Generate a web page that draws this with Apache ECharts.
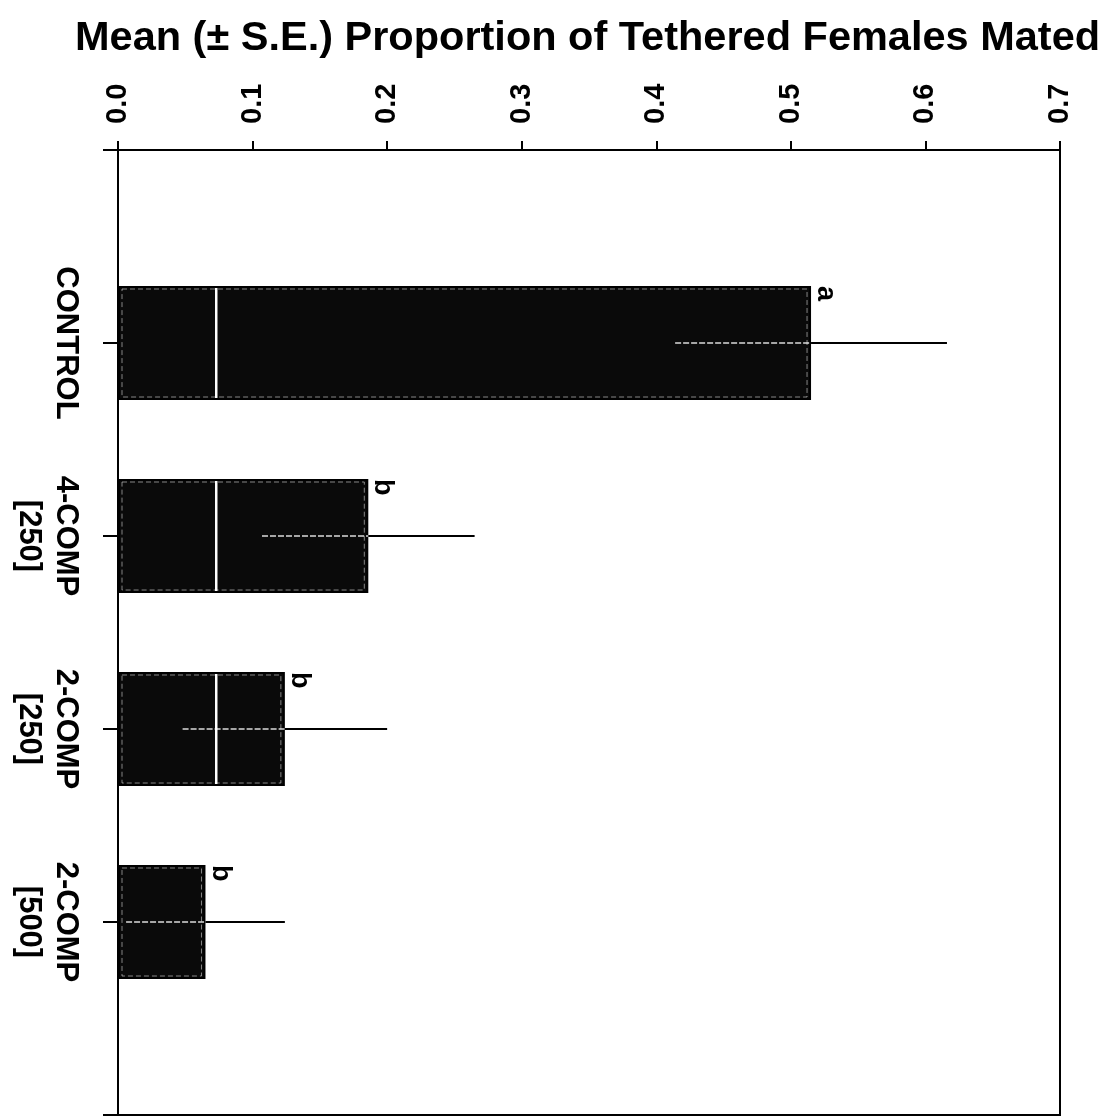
<!DOCTYPE html>
<html>
<head>
<meta charset="utf-8">
<title>Tethered females mated</title>
<script src="https://cdn.jsdelivr.net/npm/echarts@6/dist/echarts.min.js"></script>
<style>
  html, body { margin: 0; padding: 0; background: #ffffff; }
  #chart { width: 1118px; height: 1120px; }
</style>
</head>
<body>
<div id="chart"></div>
<script>
// Treatment groups (lure type and dose) and the mean proportion mated
const categories = ['CONTROL', '4-COMP\n[250]', '2-COMP\n[250]', '2-COMP\n[500]'];
const meanMated = [0.515, 0.186, 0.124, 0.065];
const stdError = [0.101, 0.079, 0.076, 0.059];
const groupLetters = ['a', 'b', 'b', 'b'];

// Value axis range and tick step
const axisMin = 0.0;
const axisMax = 0.7;
const axisStep = 0.1;

// White divider drawn across the bars
const dividerValue = 0.073;

const FONT = '"Liberation Sans", Arial, Helvetica, sans-serif';
const BAR_WIDTH = 114;

// Empty slots at both ends so the groups sit at 1..4 on a 0..5 axis
const slots = [''].concat(categories, ['']);
const barData = [null].concat(meanMated, [null]);
const errData = meanMated.map((m, i) => [m, i + 1, stdError[i]]);

const chart = echarts.init(document.getElementById('chart'), null, { renderer: 'canvas' });

function renderOverlay(params, api) {
  const i = params.dataIndex;
  const m = api.value(0);
  const slot = api.value(1);
  const se = api.value(2);
  const c = api.coord([m, slot]);
  const xm = c[0], yc = c[1];
  const x0 = api.coord([0, slot])[0];
  const xHi = api.coord([m + se, slot])[0];
  const xLo = api.coord([Math.max(0, m - se), slot])[0];
  const xDiv = api.coord([dividerValue, slot])[0];
  const half = BAR_WIDTH / 2;
  const children = [];

  // faint inner edge of the bar
  children.push({
    type: 'rect',
    shape: { x: x0 + 4, y: yc - half + 3, width: Math.max(0, xm - x0 - 8), height: BAR_WIDTH - 6 },
    style: { fill: 'none', stroke: 'rgba(255,255,255,0.5)', lineWidth: 1, lineDash: [5, 3] }
  });
  if (m > dividerValue) {
    children.push({
      type: 'line',
      shape: { x1: xDiv, y1: yc - half + 2, x2: xDiv, y2: yc + half - 2 },
      style: { stroke: '#ffffff', lineWidth: 2.5 }
    });
  }
  // lower half of the error bar, inside the bar
  children.push({
    type: 'line',
    shape: { x1: xLo, y1: yc, x2: xm, y2: yc },
    style: { stroke: 'rgba(255,255,255,0.85)', lineWidth: 1.5, lineDash: [6, 2] }
  });
  // upper half of the error bar
  children.push({
    type: 'line',
    shape: { x1: xm, y1: yc, x2: xHi, y2: yc },
    style: { stroke: '#000000', lineWidth: 2 }
  });
  // significance letter at the end of the bar
  children.push({
    type: 'text',
    x: xm + 1,
    y: yc - half,
    rotation: -Math.PI / 2,
    style: {
      text: groupLetters[i],
      fill: '#000000',
      font: 'bold 27px ' + FONT,
      align: 'left',
      verticalAlign: 'bottom'
    }
  });
  return { type: 'group', children: children };
}

const option = {
  animation: false,
  backgroundColor: '#ffffff',
  title: {
    text: 'Mean (\u00b1 S.E.) Proportion of Tethered Females Mated',
    left: 70,
    top: 13,
    textStyle: { fontFamily: FONT, fontWeight: 'bold', fontSize: 41.5, color: '#000000' }
  },
  grid: {
    left: 118, right: 58, top: 150, bottom: 5,
    show: true, borderColor: '#000000', borderWidth: 2, backgroundColor: 'transparent'
  },
  xAxis: {
    type: 'value',
    position: 'top',
    min: axisMin,
    max: axisMax,
    interval: axisStep,
    splitLine: { show: false },
    axisLine: { show: true, lineStyle: { color: '#000000', width: 2 } },
    axisTick: { show: true, inside: false, length: 9, lineStyle: { color: '#000000', width: 2 } },
    axisLabel: {
      rotate: -90,
      margin: 26,
      fontFamily: FONT,
      fontWeight: 'bold',
      fontSize: 29,
      color: '#000000',
      formatter: v => v.toFixed(1)
    }
  },
  yAxis: {
    type: 'category',
    inverse: true,
    boundaryGap: false,
    data: slots,
    axisLine: { show: true, lineStyle: { color: '#000000', width: 2 } },
    axisTick: { show: true, inside: false, length: 15, interval: 0, lineStyle: { color: '#000000', width: 2 } },
    axisLabel: {
      rotate: -90,
      margin: 34,
      interval: 0,
      fontFamily: FONT,
      fontWeight: 'bold',
      fontSize: 31,
      lineHeight: 37,
      color: '#000000'
    },
    splitLine: { show: false }
  },
  series: [
    {
      type: 'bar',
      data: barData,
      barWidth: BAR_WIDTH,
      itemStyle: { color: '#0a0a0a', borderColor: '#000000', borderWidth: 2 },
      z: 2
    },
    {
      type: 'custom',
      data: errData,
      encode: { x: 0, y: 1 },
      renderItem: renderOverlay,
      z: 3
    }
  ]
};

chart.setOption(option);
</script>
</body>
</html>
